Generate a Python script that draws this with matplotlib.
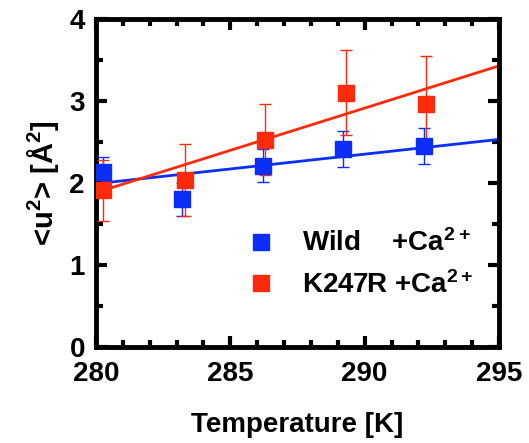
import matplotlib
matplotlib.use("Agg")
from matplotlib import pyplot as plt
from matplotlib.ticker import MultipleLocator

# temperatures (K) and <u^2> (A^2)
temp_wild = [280.25, 283.2, 286.2, 289.2, 292.2]
u2_wild = [2.13, 1.80, 2.21, 2.42, 2.45]
err_wild = [0.19, 0.20, 0.20, 0.22, 0.22]

temp_k247r = [280.25, 283.3, 286.3, 289.3, 292.3]
u2_k247r = [1.91, 2.04, 2.53, 3.10, 2.96]
err_k247r = [0.37, 0.44, 0.43, 0.52, 0.59]

# linear fits, end values
fit_x = [279.0, 295.5]
fit_wild = [1.955, 2.55]
fit_k247r = [1.78, 3.48]

BLUE = "#0a2ef5"
RED = "#ff2a0a"

plt.rcParams['font.family'] = ['Liberation Sans', 'DejaVu Sans']
plt.rcParams['font.weight'] = 'bold'
plt.rcParams['mathtext.fontset'] = 'custom'
plt.rcParams['mathtext.bf'] = 'Liberation Sans:bold'
plt.rcParams['mathtext.rm'] = 'Liberation Sans:bold'
plt.rcParams['mathtext.default'] = 'bf'

fig = plt.figure(figsize=(5.29, 4.43), dpi=100)
ax = fig.add_axes([96/529, 1-347/443, (499-96)/529, (347-19)/443])

ax.plot(fit_x, fit_wild, color=BLUE, lw=2)
ax.plot(fit_x, fit_k247r, color=RED, lw=2)

ax.errorbar(temp_wild, u2_wild, yerr=err_wild, fmt='s', color=BLUE, ms=12,
            elinewidth=1, capsize=4.5, capthick=1, label="Wild    +Ca$^{2+}$", zorder=3)
ax.errorbar(temp_k247r, u2_k247r, yerr=err_k247r, fmt='s', color=RED, ms=12,
            elinewidth=1, capsize=4.5, capthick=1, label="K247R +Ca$^{2+}$", zorder=3)

ax.set_xlim(280, 295)
ax.set_ylim(0, 4)
ax.xaxis.set_major_locator(MultipleLocator(5))
ax.xaxis.set_minor_locator(MultipleLocator(1))
ax.yaxis.set_major_locator(MultipleLocator(1))
ax.yaxis.set_minor_locator(MultipleLocator(0.5))
ax.tick_params(which='both', direction='in', top=True, right=True, width=3)
ax.tick_params(which='major', length=8, labelsize=20)
ax.tick_params(which='minor', length=5)
ax.tick_params(axis='x', pad=10)
ax.tick_params(axis='y', pad=8)
for s in ax.spines.values():
    s.set_linewidth(3.5)

ax.set_xlabel("Temperature [K]", fontsize=20, fontweight='bold', labelpad=18)
ax.set_ylabel("<u$^{2}$> [Å$^{2}$]", fontsize=21, fontweight='bold', labelpad=6)

handles, labels = ax.get_legend_handles_labels()
handles = [h[0] for h in handles]
leg = ax.legend(handles, labels, loc='lower right', bbox_to_anchor=(1.0, 0.07),
                frameon=False, fontsize=20, handlelength=1.0, handletextpad=1.0,
                labelspacing=0.5, markerscale=1.0)

fig.savefig("out.png", dpi=100)
